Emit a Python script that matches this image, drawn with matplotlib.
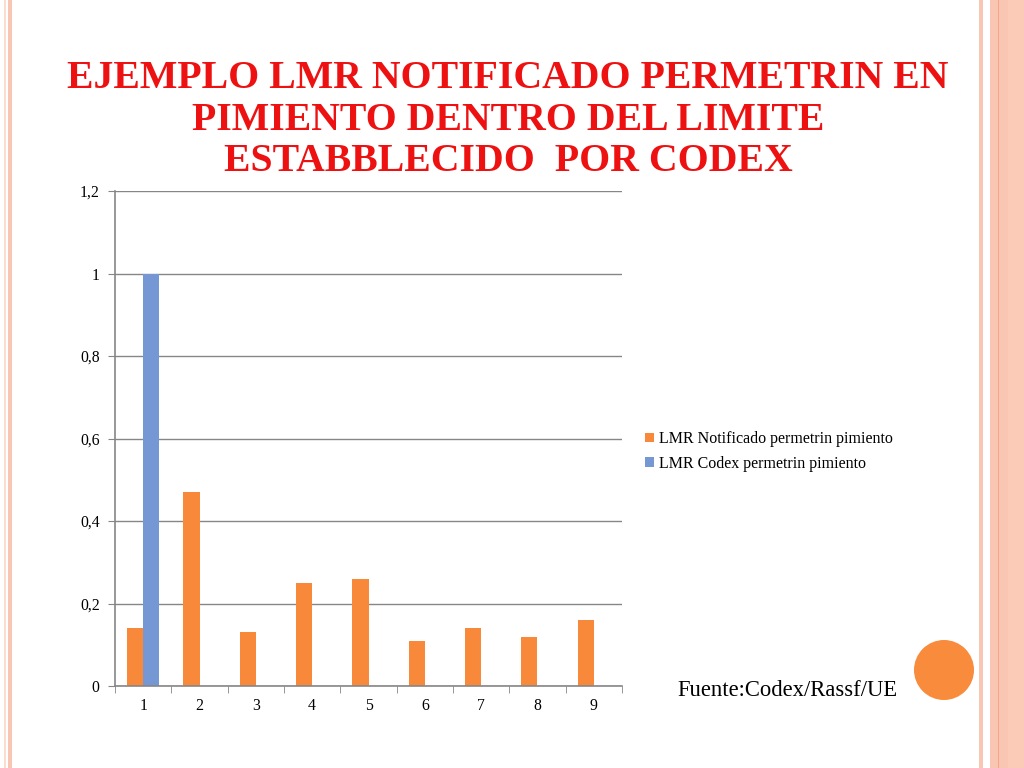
import numpy as np
import matplotlib
matplotlib.use('Agg')
from matplotlib import pyplot as plt
from matplotlib.patches import Rectangle, Circle

# datos
categorias = [1, 2, 3, 4, 5, 6, 7, 8, 9]
lmr_notificado = [0.14, 0.47, 0.13, 0.25, 0.26, 0.11, 0.14, 0.12, 0.16]
lmr_codex = [1.0, 0, 0, 0, 0, 0, 0, 0, 0]
yticks = [0, 0.2, 0.4, 0.6, 0.8, 1.0, 1.2]
ytick_labels = ['0', '0,2', '0,4', '0,6', '0,8', '1', '1,2']

titulo = 'EJEMPLO LMR NOTIFICADO PERMETRIN EN\nPIMIENTO DENTRO DEL LIMITE\nESTABBLECIDO  POR CODEX'
serie1 = 'LMR Notificado permetrin pimiento'
serie2 = 'LMR Codex permetrin pimiento'
fuente = 'Fuente:Codex/Rassf/UE'

naranja = '#F8893A'
azul = '#7598D5'
gris = '#868686'
salmon = '#F9C6B3'

plt.rcParams['font.family'] = ['Liberation Serif', 'DejaVu Serif']

fig = plt.figure(figsize=(10.24, 7.68), dpi=100)
fig.patch.set_facecolor('white')

# franjas decorativas de la diapositiva
def franja(x0, x1, color):
    fig.add_artist(Rectangle((x0 / 1024, 0), (x1 - x0) / 1024, 1,
                             transform=fig.transFigure, color=color, lw=0, zorder=0))

franja(4, 6, '#FBDCCF')
franja(8, 12, salmon)
franja(979, 983, salmon)
franja(990, 1024, salmon)
franja(997.5, 999, '#F2A888')
franja(1008, 1024, '#FBCBB8')

# circulo naranja
cax = fig.add_axes([914 / 1024, 1 - 700 / 768, 60 / 1024, 60 / 768])
cax.add_patch(Circle((0.5, 0.5), 0.5, color='#F98B3C', lw=0))
cax.set_xlim(0, 1)
cax.set_ylim(0, 1)
cax.axis('off')

fig.text(508 / 1024, 1 - 120 / 768, titulo, ha='center', va='center', color='#EE1111',
         fontsize=28.6, fontweight='bold', linespacing=1.15)

ax = fig.add_axes([115 / 1024, 1 - 686 / 768, 507 / 1024, 495 / 768])
x = np.array(categorias)
w = 0.286
b1 = ax.bar(x - w / 2, lmr_notificado, width=w, color=naranja, zorder=2, label=serie1)
b2 = ax.bar(x + w / 2, lmr_codex, width=w, color=azul, zorder=2, label=serie2)

ax.set_xlim(0.5, 9.5)
ax.set_ylim(0, 1.2)
ax.set_yticks(yticks)
ax.set_yticklabels(ytick_labels)
ax.set_xticks(categorias)
ax.set_xticklabels([str(c) for c in categorias])
ax.set_xticks(np.arange(0.5, 10, 1), minor=True)
ax.tick_params(axis='x', which='major', length=0, pad=9, labelsize=11.3)
ax.tick_params(axis='x', which='minor', length=5, color=gris, direction='out')
ax.tick_params(axis='y', length=5, color=gris, pad=6, labelsize=11.3)
ax.grid(axis='y', color=gris, lw=1, zorder=0)
for s in ['top', 'right']:
    ax.spines[s].set_visible(False)
for s in ['left', 'bottom']:
    ax.spines[s].set_color(gris)
    ax.spines[s].set_linewidth(1.2)

fig.legend(handles=[b1, b2], labels=[serie1, serie2], loc='upper left',
           bbox_to_anchor=(637 / 1024, 1 - 423 / 768), frameon=False, fontsize=11.5,
           handlelength=0.55, handleheight=0.55, handletextpad=0.35, labelspacing=0.55,
           borderpad=0)

fig.text(677 / 1024, 1 - 690 / 768, fuente, ha='left', va='center', fontsize=16.3)

fig.savefig('out.png', dpi=100)
